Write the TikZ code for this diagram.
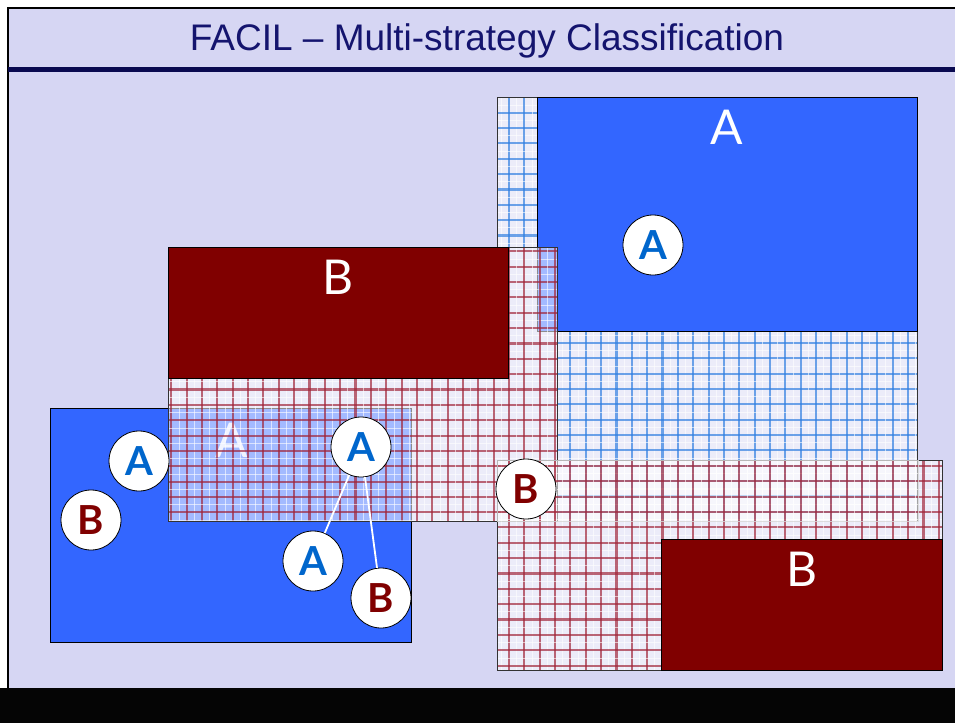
\documentclass[tikz,border=0pt]{standalone}
\usepackage{fontspec}
\setmainfont{Liberation Sans}
\newfontfamily\labelfont{Lato}

\definecolor{pagebg}{RGB}{214,214,243}
\definecolor{rulenavy}{RGB}{10,10,80}
\definecolor{titleblue}{RGB}{20,20,110}
\definecolor{classA}{RGB}{51,102,255}
\definecolor{classB}{RGB}{128,0,0}
\definecolor{letterA}{RGB}{0,102,204}
\definecolor{gridblue}{RGB}{45,125,225}
\definecolor{gridred}{RGB}{160,35,55}

% mesh region: #1,#2 = top-left, #3,#4 = bottom-right,
% #5,#6 = first grid line (x,y), #7 = line colour
\newcommand{\meshbox}[7]{%
  \fill[white,opacity=0.55] (#1,#2) rectangle (#3,#4);
  \begin{scope}
    \clip (#1,#2) rectangle (#3,#4);
    \foreach \k in {0,...,30} {
      \draw[white,opacity=0.6,line width=0.8pt]
        ({#5+15.35*\k+7.7},#2) -- ({#5+15.35*\k+7.7},#4);
      \draw[white,opacity=0.6,line width=0.8pt]
        (#1,{#6+15.35*\k+7.7}) -- (#3,{#6+15.35*\k+7.7});
      \draw[#7,opacity=0.68,line width=2.1pt]
        ({#5+15.35*\k},#2) -- ({#5+15.35*\k},#4);
      \draw[#7,opacity=0.68,line width=2.1pt]
        (#1,{#6+15.35*\k}) -- (#3,{#6+15.35*\k});
    }
  \end{scope}
  \draw[black!80,line width=0.8pt] (#1,#2) rectangle (#3,#4);
}

\tikzset{
  classrect/.style={draw=black,line width=0.9pt},
  bigletter/.style={text=white,font=\labelfont\fontsize{48}{48}\selectfont,inner sep=0pt},
  vote/.style={circle,fill=white,draw=black,line width=0.8pt,minimum size=60pt,inner sep=0pt,
    font=\labelfont\bfseries\fontsize{40}{40}\selectfont},
  voteA/.style={vote,text=letterA},
  voteB/.style={vote,text=classB},
  link/.style={draw=white,line width=1.8pt}
}

\begin{document}
\begin{tikzpicture}[x=1pt,y=-1pt]
  \useasboundingbox (0,0) rectangle (955,723);
  \fill[white] (0,0) rectangle (955,723);
  \fill[pagebg] (8,8) rectangle (955,688);
  \draw[black,line width=2.5pt] (8,688) -- (8,8) -- (955,8);

  % title
  \node[text=titleblue,font=\fontsize{37}{40}\selectfont,anchor=base,inner sep=0pt] (title) at (487,50)
    {FACIL – Multi-strategy Classification};
  \fill[rulenavy] (8,66.5) rectangle (955,71.5);

  % extent of class A (upper right), left around the B mesh
  \begin{scope}
    \clip (497,97) -- (917,97) -- (917,521) -- (557,521) -- (557,247) -- (497,247) -- cycle;
    \meshbox{497}{97}{917}{521}{493.65}{97.35}{gridblue}
  \end{scope}
  \draw[black!80,line width=0.8pt] (497,247) -- (497,97) -- (917,97) -- (917,521);

  \fill[classA] (537,97) rectangle (917,331);
  \draw[classrect] (537,97) rectangle (917,331);
  \node[bigletter] (labA1) at (727,127) {A};

  % class A (lower left)
  \fill[classA] (50,408) rectangle (411,642);
  \draw[classrect] (50,408) rectangle (411,642);
  \node[bigletter,opacity=0.85] (labA2) at (232,440) {A};

  % extent of class B (middle)
  \meshbox{168}{247}{557}{521}{155.95}{251.35}{gridred}
  \fill[classB] (168,247) rectangle (508,378);
  \draw[classrect] (168,247) rectangle (508,378);
  \node[bigletter] (labB1) at (338,277) {B};

  % extent of class B (lower right)
  \meshbox{497}{460}{942}{670}{493.65}{450.65}{gridred}
  \draw[white!70!gray,line width=0.8pt,opacity=0.8] (497,460) rectangle (918,521);
  \fill[classB] (661,539) rectangle (942,670);
  \draw[classrect] (661,539) rectangle (942,670);
  \node[bigletter] (labB2) at (802,569) {B};

  % classification votes
  \node[voteA] (v1) at (653,245) {A};
  \node[voteA] (v2) at (139,461) {A};
  \node[voteB] (v3) at (91,520) {B};
  \node[voteB] (v4) at (526,489) {B};
  \node[voteA] (v5) at (361,447) {A};
  \node[voteA] (v6) at (313,561) {A};
  \node[voteB] (v7) at (381,598) {B};
  \draw[link] (v5) -- (v6);
  \draw[link] (v5) -- (v7);

  % footer band
  \fill[black!98] (0,688) rectangle (955,723);
\end{tikzpicture}
\end{document}
